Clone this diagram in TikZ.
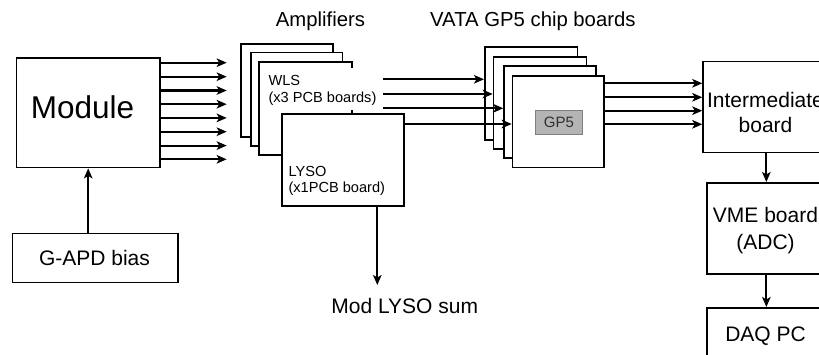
\documentclass[tikz,border=0pt]{standalone}
\usepackage{fontspec}
\setmainfont{Liberation Sans}
\usetikzlibrary{arrows.meta,calc}
\definecolor{chipfill}{HTML}{B4B4B4}
\definecolor{chipline}{HTML}{808080}
\definecolor{chiptext}{HTML}{303030}
\begin{document}
\begin{tikzpicture}[x=1pt,y=-1pt,
  box/.style={draw, line width=1.7pt, fill=white, inner sep=0pt, anchor=north west},
  arr/.style={line width=2.1pt, -{Stealth[length=10pt,width=8.5pt,inset=2.5pt]}},
  lbl/.style={inner sep=0pt, anchor=base},
  lblw/.style={inner sep=0pt, anchor=base west},
  fbig/.style={font=\fontsize{31.5}{36}\selectfont},
  fmid/.style={font=\fontsize{21}{25}\selectfont},
  ftitle/.style={font=\fontsize{20.3}{24}\selectfont},
  fsmall/.style={font=\fontsize{14.6}{17}\selectfont},
]
\useasboundingbox (0,0) rectangle (819,355);

% Module and bias
\node[box, minimum width=143.3pt, minimum height=109.4pt] (module) at (15.7,57.3) {};
\node[lbl, fbig] (moduletext) at (82.5,118.3) {Module};
\node[box, minimum width=165.6pt, minimum height=49pt] (gapd) at (11.7,232.7) {};
\node[lbl, fmid] (gapdtext) at (94.5,266) {G-APD bias};
\draw[arr] (gapd.north -| module.south) -- (module.south);

% Titles
\node[lbl, ftitle] (amptitle) at (320.5,26.7) {Amplifiers};
\node[lblw, ftitle] (vatatitle) at (430,26.7) {VATA GP5 chip boards};

% Amplifier stack
\node[box, minimum width=92pt, minimum height=92.7pt] (amp1) at (240,43.3) {};
\node[box, minimum width=91.7pt, minimum height=93.3pt] (amp2) at (250,51.7) {};
\node[box, draw=none, minimum width=91.5pt, minimum height=91.3pt] (amp3) at (259,61.7) {};
\draw[line width=1.7pt] ($(amp3.north east)+(0,6.5)$) -- (amp3.north east) -- (amp3.north west) -- (amp3.south west) -- (amp3.south east);
\node[lblw, fsmall] (wls1) at (268.3,86) {WLS};
\node[lblw, fsmall] (wls2) at (268.3,102.7) {(x3 PCB boards)};
\node[box, minimum width=122.3pt, minimum height=91.7pt] (lyso) at (281,113.3) {};
\draw[line width=1.7pt] (amp3.east |- 0,110) -- (amp3.east |- lyso.north);
\node[lblw, fsmall] (lyso1) at (288.3,176.7) {LYSO};
\node[lblw, fsmall] (lyso2) at (288.3,193) {(x1PCB board)};

% Mod LYSO sum
\node[lbl, fmid] (modsum) at (404.7,313.3) {Mod LYSO sum};
\coordinate (sumend) at (377.3,285);
\draw[arr] (lyso.south -| sumend) -- (sumend);

% Module outputs
\foreach \yy in {62.7,76.7,90.5,104.2,117.9,131.7,145.6,159.3}
  \draw[arr] (module.east |- 0,\yy) -- ++(66,0);

% GP5 stack
\node[box, minimum width=92.7pt, minimum height=93.3pt] (gp1) at (484,46) {};
\node[box, minimum width=93pt, minimum height=92.3pt] (gp2) at (492.7,56) {};
\node[box, minimum width=91.7pt, minimum height=92.3pt] (gp3) at (503.3,65) {};
\node[box, minimum width=91.6pt, minimum height=91.7pt] (gp4) at (511.7,75) {};
\node[draw=chipline, fill=chipfill, line width=1.2pt, inner sep=0pt, anchor=north west,
      minimum width=46.7pt, minimum height=24.3pt, text=chiptext,
      font=\fontsize{15}{18}\selectfont] (gp5chip) at (535,110) {GP5};

% Amplifier -> GP5
\coordinate (a1) at (383,79.3);
\coordinate (a2) at (383,94);
\coordinate (a3) at (383,108.3);
\draw[arr] (a1) -- (gp1.west |- a1);
\draw[arr] (a2) -- (gp2.west |- a2);
\draw[arr] (a3) -- (gp3.west |- a3);
\draw[arr] (lyso.east |- 0,124) -- (gp4.west |- 0,124);

% Right column
\node[box, minimum width=126.4pt, minimum height=91pt] (inter) at (702.3,60.7) {};
\node[lbl, fmid] (inter1) at (765.5,107.3) {Intermediate};
\node[lbl, fmid] (inter2) at (765.5,132.7) {board};
\node[box, minimum width=119pt, minimum height=91.3pt] (vme) at (706,182) {};
\node[lbl, fmid] (vme1) at (765.5,223) {VME board};
\node[lbl, fmid] (vme2) at (765.5,250) {(ADC)};
\node[box, minimum width=119pt, minimum height=60pt] (daq) at (706,307) {};
\node[lbl, fmid] (daq1) at (765.5,341.7) {DAQ PC};

% GP5 -> Intermediate
\foreach \yy in {83.3,97.3,110.7,124.3}
  \draw[arr] (gp4.east |- 0,\yy) -- (inter.west |- 0,\yy);

\draw[arr] (inter.south) -- (inter.south |- vme.north);
\draw[arr] (vme.south) -- (vme.south |- daq.north);
\end{tikzpicture}
\end{document}
